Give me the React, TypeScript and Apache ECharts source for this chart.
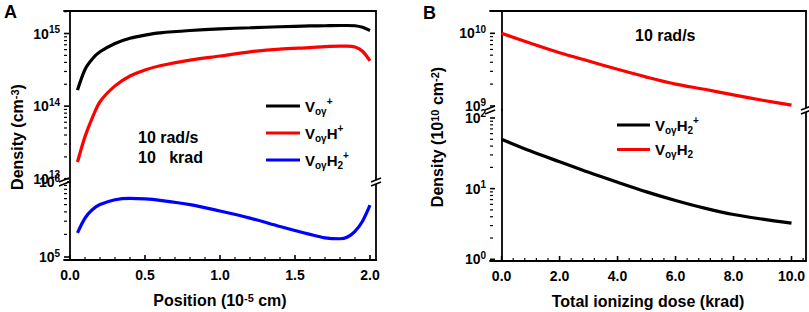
import React, { useEffect, useRef } from "react";
import * as echarts from "echarts";

// ---------- Data: panel A (density vs position) ----------
const positionX = [0.05, 0.1, 0.15, 0.2, 0.3, 0.4, 0.5, 0.6, 0.8, 1.0, 1.2, 1.4, 1.6, 1.7, 1.8, 1.85, 1.9, 1.95, 2.0];
const voyPlus = [1.66e14, 3.2e14, 4.5e14, 5.6e14, 7.3e14, 8.6e14, 9.5e14, 1.02e15, 1.1e15, 1.16e15, 1.2e15, 1.24e15, 1.27e15, 1.28e15, 1.29e15, 1.29e15, 1.28e15, 1.22e15, 1.1e15];
const voyHPlus = [1.7e13, 3.8e13, 7e13, 1.15e14, 1.9e14, 2.6e14, 3.15e14, 3.6e14, 4.3e14, 4.9e14, 5.6e14, 6.1e14, 6.4e14, 6.6e14, 6.7e14, 6.7e14, 6.5e14, 5.7e14, 4.2e14];
const voyH2Plus = [2.1e5, 3.3e5, 4.3e5, 5.0e5, 5.8e5, 6.05e5, 5.95e5, 5.7e5, 5.0e5, 4.1e5, 3.3e5, 2.55e5, 2.0e5, 1.8e5, 1.75e5, 1.85e5, 2.2e5, 3.0e5, 4.9e5];

// ---------- Data: panel B (density vs total ionizing dose) ----------
const doseX = [0, 1, 2, 3, 4, 5, 6, 7, 8, 9, 10];
const bVoyH2Plus = [50, 34, 24, 17, 12.3, 9.0, 6.8, 5.3, 4.3, 3.7, 3.25];
const bVoyH2 = [1.0e10, 7.3e9, 5.4e9, 4.15e9, 3.2e9, 2.5e9, 2.0e9, 1.7e9, 1.42e9, 1.2e9, 1.03e9];

// ---------- Tick labels ----------
const positionTicks = [0, 0.5, 1.0, 1.5, 2.0];
const doseTicks = [0, 2, 4, 6, 8, 10];
const aUpperTicks = [1e13, 1e14, 1e15];
const aLowerTicks = [1e5, 1e6];
const bUpperTicks = [1e9, 1e10];
const bLowerTicks = [1, 10, 100];

const FONT = '"Liberation Sans", Arial, Helvetica, sans-serif';
const BLACK = "#000000";
const RED = "#ff0000";
const BLUE = "#0000ff";

const lineStyle = { color: BLACK, width: 1.8 };

function logMinor(min: number, max: number) {
  const out: number[] = [];
  const e0 = Math.floor(Math.log10(min));
  const e1 = Math.ceil(Math.log10(max));
  for (let e = e0; e <= e1; e++) {
    for (let m = 2; m <= 9; m++) {
      const v = m * Math.pow(10, e);
      if (v > min && v < max) out.push(v);
    }
  }
  return out;
}
function linMinor(min: number, max: number, step: number, majors: number[]) {
  const out: number[] = [];
  const n0 = Math.ceil(min / step);
  const n1 = Math.floor(max / step);
  for (let n = n0; n <= n1; n++) {
    const v = +(n * step).toFixed(6);
    if (!majors.some((m) => Math.abs(m - v) < 1e-6)) out.push(v);
  }
  return out;
}

const tickRich = {
  b: { fontSize: 14, fontWeight: "bold", fontFamily: FONT, color: BLACK, lineHeight: 18 },
  s: { fontSize: 10, fontWeight: "bold", fontFamily: FONT, color: BLACK, lineHeight: 8, verticalAlign: "top" },
};
function logLabel(v: number) {
  const e = Math.round(Math.log10(v));
  return `{b|10}{s|${e}}`;
}

const nameRich = {
  s: { fontSize: 11, fontWeight: "bold", fontFamily: FONT, color: BLACK, lineHeight: 9, verticalAlign: "top" },
};

function yMain(gridIndex: number, min: number, max: number, ticks: number[]) {
  return {
    type: "log", logBase: 10, gridIndex, min, max, position: "left",
    axisLine: { show: true, lineStyle },
    axisTick: { show: false },
    axisLabel: { show: true, customValues: ticks, formatter: logLabel, margin: 4, rich: tickRich },
    splitLine: { show: false },
  };
}
function yRight(gridIndex: number, min: number, max: number) {
  return {
    type: "log", logBase: 10, gridIndex, min, max, position: "right",
    axisLine: { show: true, lineStyle },
    axisTick: { show: false }, axisLabel: { show: false }, splitLine: { show: false },
  };
}
function xTop(gridIndex: number, min: number, max: number) {
  return {
    type: "value", gridIndex, min, max, position: "top",
    axisLine: { show: true, lineStyle },
    axisTick: { show: false }, axisLabel: { show: false }, splitLine: { show: false },
  };
}
function xMain(gridIndex: number, min: number, max: number, ticks: number[], name: string) {
  return {
    type: "value", gridIndex, min, max, position: "bottom",
    name, nameLocation: "middle", nameGap: 32,
    nameTextStyle: { fontSize: 16, fontWeight: "bold", fontFamily: FONT, color: BLACK, rich: nameRich },
    axisLine: { show: true, lineStyle },
    axisTick: { show: false },
    axisLabel: {
      show: true, customValues: ticks, formatter: (v: number) => v.toFixed(1), margin: 8,
      fontSize: 14, fontWeight: "bold", fontFamily: FONT, color: BLACK,
    },
    splitLine: { show: false },
  };
}

// Tick marks drawn through the axes' own scales (custom series)
function yTicks(xAxisIndex: number, yAxisIndex: number, xAt: number, majors: number[], minors: number[]) {
  const data = [...majors.map((v) => [xAt, v, 5]), ...minors.map((v) => [xAt, v, 3])];
  return {
    type: "custom", xAxisIndex, yAxisIndex, data, clip: false, silent: true, z: 5,
    renderItem: (_p: any, api: any) => {
      const pt = api.coord([api.value(0), api.value(1)]);
      const len = api.value(2);
      return {
        type: "line",
        shape: { x1: pt[0], y1: pt[1], x2: pt[0] + len, y2: pt[1] },
        style: { stroke: BLACK, lineWidth: len > 4 ? 1.6 : 1.2 },
      };
    },
  };
}
function xTicks(xAxisIndex: number, yAxisIndex: number, yAt: number, majors: number[], minors: number[]) {
  const data = [...majors.map((v) => [v, yAt, 5]), ...minors.map((v) => [v, yAt, 3])];
  return {
    type: "custom", xAxisIndex, yAxisIndex, data, clip: false, silent: true, z: 5,
    renderItem: (_p: any, api: any) => {
      const pt = api.coord([api.value(0), api.value(1)]);
      const len = api.value(2);
      return {
        type: "line",
        shape: { x1: pt[0], y1: pt[1], x2: pt[0], y2: pt[1] - len },
        style: { stroke: BLACK, lineWidth: len > 4 ? 1.6 : 1.2 },
      };
    },
  };
}

const legendRich = {
  m: { fontSize: 15, fontWeight: "bold", fontFamily: FONT, color: BLACK, lineHeight: 20 },
  sb: { fontSize: 10, fontWeight: "bold", fontFamily: FONT, color: BLACK, lineHeight: 10, verticalAlign: "bottom" },
  sp: { fontSize: 10, fontWeight: "bold", fontFamily: FONT, color: BLACK, lineHeight: 9, verticalAlign: "top" },
};
const legendText: Record<string, string> = {
  "Voγ+": "{m|V}{sb|oγ}{sp|+}",
  "VoγH+": "{m|V}{sb|oγ}{m|H}{sp|+}",
  "VoγH2+": "{m|V}{sb|oγ}{m|H}{sb|2}{sp|+}",
  "VoγH2+ ": "{m|V}{sb|oγ}{m|H}{sb|2}{sp|+}",
  "VoγH2": "{m|V}{sb|oγ}{m|H}{sb|2}",
};

function breakMark(x: number, y: number) {
  return [
    { type: "rect", z: 100, shape: { x: x - 3, y: y - 2, width: 6, height: 4 }, style: { fill: "#fff" } },
    { type: "line", z: 101, shape: { x1: x - 5, y1: y, x2: x + 5, y2: y - 4 }, style: { stroke: BLACK, lineWidth: 1.6 } },
    { type: "line", z: 101, shape: { x1: x - 5, y1: y + 4, x2: x + 5, y2: y }, style: { stroke: BLACK, lineWidth: 1.6 } },
  ];
}

function textEl(x: number, y: number, text: string, size: number) {
  return {
    type: "text", x, y, z: 50,
    style: {
      text, fontSize: size, fontWeight: "bold", fontFamily: FONT, fill: BLACK,
      align: "left", verticalAlign: "middle",
    },
  };
}

function buildOption() {
  const aXMin = -0.04, aXMax = 2.04;
  const bXMin = -0.4, bXMax = 10.5;
  const a1Min = Math.pow(10, 12.955), a1Max = Math.pow(10, 15.31);
  const a2Min = Math.pow(10, 4.96), a2Max = Math.pow(10, 6);
  const b1Min = Math.pow(10, 8.945), b1Max = Math.pow(10, 10.307);
  const b2Min = Math.pow(10, -0.024), b2Max = Math.pow(10, 2.113);

  const pair = (xs: number[], ys: number[]) => xs.map((x, i) => [x, ys[i]]);
  const lineSeries = (name: string, xi: number, yi: number, xs: number[], ys: number[], color: string) => ({
    name, type: "line", xAxisIndex: xi, yAxisIndex: yi, data: pair(xs, ys), symbol: "none",
    smooth: 0.3, z: 10, lineStyle: { color, width: 3.2 }, itemStyle: { color },
  });
  const legendBase = {
    orient: "vertical", icon: "rect", itemHeight: 3, itemGap: 7, padding: 0, selectedMode: false,
    formatter: (n: string) => legendText[n], textStyle: { rich: legendRich },
  };

  return {
    animation: false,
    backgroundColor: "#ffffff",
    textStyle: { fontFamily: FONT },
    grid: [
      { left: 64, top: 11, width: 312, height: 171 },
      { left: 64, top: 182, width: 312, height: 78 },
      { left: 490, top: 11, width: 316, height: 99 },
      { left: 490, top: 110, width: 316, height: 151 },
    ],
    xAxis: [
      xTop(0, aXMin, aXMax),
      xMain(1, aXMin, aXMax, positionTicks, "Position (10{s|-5} cm)"),
      xTop(2, bXMin, bXMax),
      xMain(3, bXMin, bXMax, doseTicks, "Total ionizing dose (krad)"),
    ],
    yAxis: [
      yMain(0, a1Min, a1Max, aUpperTicks), yRight(0, a1Min, a1Max),
      yMain(1, a2Min, a2Max, aLowerTicks), yRight(1, a2Min, a2Max),
      yMain(2, b1Min, b1Max, bUpperTicks), yRight(2, b1Min, b1Max),
      yMain(3, b2Min, b2Max, bLowerTicks), yRight(3, b2Min, b2Max),
    ],
    legend: [
      { ...legendBase, data: ["Voγ+", "VoγH+", "VoγH2+"], left: 266, top: 96, itemWidth: 34 },
      { ...legendBase, data: ["VoγH2+ ", "VoγH2"], left: 617, top: 115, itemWidth: 33 },
    ],
    series: [
      lineSeries("Voγ+", 0, 0, positionX, voyPlus, BLACK),
      lineSeries("VoγH+", 0, 0, positionX, voyHPlus, RED),
      lineSeries("VoγH2+", 1, 2, positionX, voyH2Plus, BLUE),
      lineSeries("VoγH2", 2, 4, doseX, bVoyH2, RED),
      lineSeries("VoγH2+ ", 3, 6, doseX, bVoyH2Plus, BLACK),
      // axis ticks
      yTicks(0, 0, aXMin, aUpperTicks, logMinor(a1Min, a1Max)),
      yTicks(1, 2, aXMin, aLowerTicks, logMinor(a2Min, a2Max)),
      yTicks(2, 4, bXMin, bUpperTicks, logMinor(b1Min, b1Max)),
      yTicks(3, 6, bXMin, bLowerTicks, logMinor(b2Min, b2Max)),
      xTicks(1, 2, a2Min, positionTicks, linMinor(aXMin, aXMax, 0.1, positionTicks)),
      xTicks(3, 6, b2Min, doseTicks, linMinor(0, bXMax, 0.4, doseTicks)),
    ],
    graphic: [
      ...breakMark(64, 182),
      ...breakMark(376, 182),
      ...breakMark(490, 110),
      ...breakMark(806, 110),
      textEl(4, 12, "A", 18),
      textEl(423, 13, "B", 18),
      textEl(138, 137, "10 rad/s", 16),
      textEl(138, 157, "10   krad", 16),
      textEl(635, 35, "10 rad/s", 16),
      {
        type: "text", x: 17, y: 137, rotation: Math.PI / 2, z: 50,
        style: {
          text: "Density (cm{s|-3})", fontSize: 16, fontWeight: "bold", fontFamily: FONT, fill: BLACK,
          align: "center", verticalAlign: "middle", rich: nameRich,
        },
      },
      {
        type: "text", x: 437, y: 137, rotation: Math.PI / 2, z: 50,
        style: {
          text: "Density (10{s|10} cm{s|-2})", fontSize: 16, fontWeight: "bold", fontFamily: FONT, fill: BLACK,
          align: "center", verticalAlign: "middle", rich: nameRich,
        },
      },
    ],
  };
}

export default function App() {
  const ref = useRef<HTMLDivElement>(null);
  useEffect(() => {
    if (!ref.current) return;
    const chart = echarts.init(ref.current, null, { renderer: "svg" });
    chart.setOption(buildOption() as any);
    return () => chart.dispose();
  }, []);
  return (
    <div
      ref={ref}
      style={{ position: "absolute", left: 0, top: 0, width: 809, height: 312, background: "#fff" }}
    />
  );
}
